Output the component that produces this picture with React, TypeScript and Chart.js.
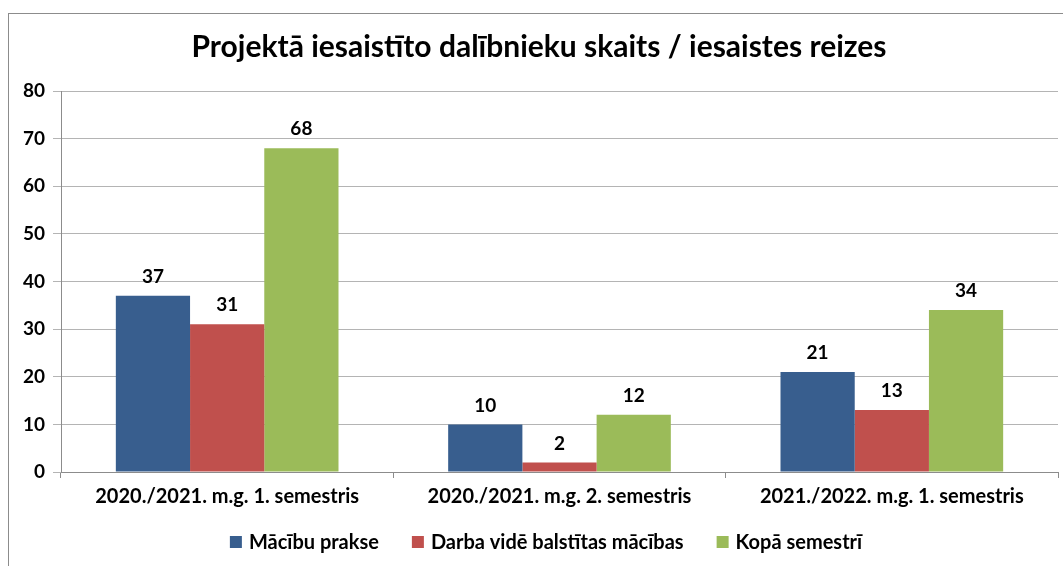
import React, { useEffect, useRef } from 'react';
import { Chart, registerables } from 'chart.js';

Chart.register(...registerables);

const titleText = 'Projektā iesaistīto dalībnieku skaits / iesaistes reizes';
const categories = [
  '2020./2021. m.g. 1. semestris',
  '2020./2021. m.g. 2. semestris',
  '2021./2022. m.g. 1. semestris',
];
const seriesNames = ['Mācību prakse', 'Darba vidē balstītas mācības', 'Kopā semestrī'];
const seriesColors = ['#385E8E', '#C0504D', '#9BBB59'];
const macibuPrakse = [37, 10, 21];
const darbaVide = [31, 2, 13];
const kopaSemestri = [68, 12, 34];
const yMin = 0;
const yMax = 80;
const yStep = 10;

const FONT = 'Lato, "Open Sans", sans-serif';

const frameLabelsLegend = {
  id: 'frameLabelsLegend',
  beforeDraw(chart: any) {
    const ctx = chart.ctx;
    ctx.save();
    ctx.fillStyle = '#ffffff';
    ctx.fillRect(0, 0, chart.width, chart.height);
    ctx.strokeStyle = '#8c8c8c';
    ctx.lineWidth = 1;
    ctx.strokeRect(8.5, 13.5, chart.width + 50, chart.height + 50);
    ctx.restore();
  },
  afterDatasetsDraw(chart: any) {
    const ctx = chart.ctx;
    ctx.save();
    ctx.font = `bold 19px ${FONT}`;
    ctx.fillStyle = '#000000';
    ctx.textAlign = 'center';
    ctx.textBaseline = 'middle';
    chart.data.datasets.forEach((ds: any, i: number) => {
      const meta = chart.getDatasetMeta(i);
      meta.data.forEach((el: any, j: number) => {
        ctx.fillText(String(ds.data[j]), el.x, el.y - 19);
      });
    });
    ctx.restore();
  },
  afterDraw(chart: any) {
    const ctx = chart.ctx;
    ctx.save();
    ctx.font = `bold 20px ${FONT}`;
    ctx.textBaseline = 'middle';
    ctx.textAlign = 'left';
    const box = 12;
    const gapBoxText = 7;
    const gapItems = 33;
    const widths = chart.data.datasets.map((ds: any) => box + gapBoxText + ctx.measureText(ds.label).width);
    const total = widths.reduce((a: number, b: number) => a + b, 0) + gapItems * (widths.length - 1);
    const cy = 542;
    let x = 546 - total / 2;
    chart.data.datasets.forEach((ds: any, i: number) => {
      ctx.fillStyle = ds.backgroundColor;
      ctx.fillRect(x, cy - box / 2, box, box);
      ctx.fillStyle = '#000000';
      ctx.fillText(ds.label, x + box + gapBoxText, cy + 1);
      x += widths[i] + gapItems;
    });
    ctx.restore();
  },
};

export default function App() {
  const ref = useRef<HTMLCanvasElement | null>(null);
  useEffect(() => {
    if (!ref.current) return;
    const chart = new Chart(ref.current, {
      type: 'bar',
      data: {
        labels: categories,
        datasets: [
          { label: seriesNames[0], data: macibuPrakse, backgroundColor: seriesColors[0] },
          { label: seriesNames[1], data: darbaVide, backgroundColor: seriesColors[1] },
          { label: seriesNames[2], data: kopaSemestri, backgroundColor: seriesColors[2] },
        ],
      },
      options: {
        animation: false,
        responsive: true,
        maintainAspectRatio: false,
        datasets: { bar: { categoryPercentage: 0.67, barPercentage: 1 } },
        layout: { padding: { left: 20, right: 5, top: 0, bottom: 57 } },
        plugins: {
          title: {
            display: true,
            text: titleText,
            color: '#000',
            font: { family: FONT, size: 30, weight: 'bold' },
            padding: { top: 29, bottom: 26 },
          },
          legend: { display: false },
          tooltip: { enabled: false },
        },
        scales: {
          x: {
            offset: true,
            afterFit(scale: any) {
              scale.height = 37;
            },
            grid: { display: true, drawOnChartArea: false, offset: true, tickLength: 6, color: '#8c8c8c' },
            border: { color: '#8c8c8c' },
            ticks: { color: '#000', font: { family: FONT, size: 20, weight: 'bold' }, padding: 7 },
          },
          y: {
            min: yMin,
            max: yMax,
            afterFit(scale: any) {
              scale.width = 41;
            },
            ticks: { stepSize: yStep, color: '#000', font: { family: FONT, size: 19, weight: 'bold' }, padding: 8 },
            grid: { color: '#b4b4b4', tickLength: 8 },
            border: { color: '#8c8c8c' },
          },
        },
      },
      plugins: [frameLabelsLegend],
    });
    return () => chart.destroy();
  }, []);
  return (
    <div style={{ position: 'absolute', left: 0, top: 0, width: 1063, height: 566 }}>
      <canvas ref={ref} />
    </div>
  );
}
